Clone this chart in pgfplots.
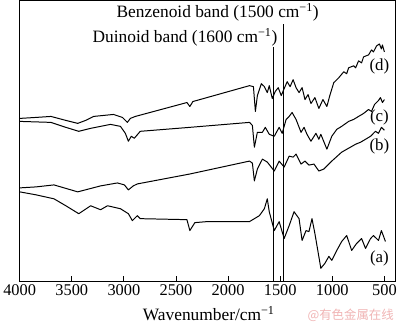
\documentclass[border=0pt]{standalone}
\usepackage{fontspec}
\setmainfont{Liberation Serif}
\newfontfamily\cjk{Noto Sans CJK SC}
\usepackage{pgfplots}
\pgfplotsset{compat=1.18}
\definecolor{wm}{HTML}{F0B4B4}
\begin{document}
\begin{tikzpicture}
\begin{axis}[name=ax,
  width=378.8pt, height=282.6pt, scale only axis,
  x dir=reverse, xmin=392, xmax=4000, ymin=0, ymax=282.6,
  xtick={500,1000,...,4000}, ytick=\empty,
  xtick pos=bottom, tick align=inside, major tick length=5pt,
  /pgf/number format/assume math mode=true,
  /pgf/number format/set thousands separator={},
  ticklabel style={font=\fontsize{16.5}{18}\selectfont},
  axis line style={line width=1.1pt},
  every tick/.style={black, line width=0.9pt},
  clip=false,
  cycle list={{black,no markers}},
  every axis plot/.append style={black, no markers, line width=1pt, line join=round},
]
% (d)
\addplot coordinates {(4000,164)(3843,165)(3700,166)(3557,162)(3443,159)(3367,162)(3290,166)(3100,168)(3014,165)(2967,160)(2938,164)(2890,166)(2395,180)(2367,176)(2338,181)(1795,197)(1757,196)(1738,171)(1719,187)(1681,199)(1652,196)(1624,190)(1605,197)(1576,184)(1548,191)(1519,195)(1490,187)(1462,194)(1433,201)(1405,196)(1376,203)(1348,195)(1319,190)(1290,195)(1262,183)(1233,188)(1205,179)(1167,185)(1129,174)(1090,183)(1052,176)(1024,187)(986,200)(938,205)(890,211)(862,209)(843,215)(795,217)(776,215)(748,222)(719,220)(700,226)(652,228)(624,233)(605,231)(576,237)(548,239)(529,234)(519,238)(500,231)};
% (c)
\addplot coordinates {(4000,161)(3700,160)(3557,155)(3433,151)(3319,154)(3129,158)(3033,156)(2986,149)(2957,141)(2929,146)(2900,144)(2843,151)(2367,155)(1795,160)(1767,157)(1748,135)(1719,150)(1671,150)(1643,155)(1605,148)(1557,146)(1510,155)(1481,149)(1443,163)(1414,166)(1386,170)(1348,163)(1300,150)(1271,155)(1243,148)(1205,141)(1157,149)(1129,143)(1110,148)(1052,133)(1005,146)(957,153)(910,156)(843,161)(795,163)(748,166)(700,169)(652,173)(624,171)(595,178)(557,182)(538,185)(519,180)(500,183)};
% (b)
\addplot coordinates {(4000,94)(3843,95)(3671,97)(3443,90)(3224,96)(3062,99)(2995,97)(2957,92)(2910,96)(2871,98)(2367,108)(1795,121)(1767,119)(1748,101)(1719,113)(1671,123)(1624,120)(1557,111)(1510,121)(1462,115)(1414,126)(1376,125)(1348,128)(1300,118)(1262,121)(1224,117)(1176,118)(1129,111)(1081,113)(1052,116)(1005,121)(910,130)(843,134)(776,138)(729,140)(681,143)(633,146)(586,151)(557,149)(529,155)(500,152)};
% (a)
\addplot coordinates {(4000,90)(3843,87)(3671,83)(3557,76)(3433,68)(3319,76)(3224,72)(3157,76)(3033,73)(2957,68)(2919,61)(2871,66)(2843,63)(2395,62)(2367,51)(2319,59)(2205,60)(1795,60)(1700,66)(1652,73)(1624,83)(1605,70)(1557,51)(1510,60)(1462,43)(1414,56)(1367,70)(1319,63)(1290,41)(1252,51)(1224,50)(1195,63)(1167,48)(1110,13)(1071,18)(1033,25)(1005,21)(957,31)(910,40)(862,46)(814,31)(767,38)(719,43)(681,33)(633,43)(605,46)(557,41)(529,51)(490,40)};
% band markers
\addplot[line width=1.1pt] coordinates {(1567,0)(1567,236)};
\addplot[line width=1.1pt] coordinates {(1467,0)(1467,259)};
\node[font=\fontsize{17.5}{20}\selectfont] at (axis cs:2100,270.5) {Benzenoid band (1500 cm\textsuperscript{−1})};
\node[font=\fontsize{17.5}{20}\selectfont] at (axis cs:2414,246) {Duinoid band (1600 cm\textsuperscript{−1})};
\node[font=\fontsize{17}{20}\selectfont] at (axis cs:548,216) {(d)};
\node[font=\fontsize{17}{20}\selectfont] at (axis cs:548,165) {(c)};
\node[font=\fontsize{17}{20}\selectfont] at (axis cs:548,136) {(b)};
\node[font=\fontsize{17}{20}\selectfont] at (axis cs:548,23) {(a)};
\node[font=\fontsize{17.5}{20}\selectfont] at (axis cs:2186,-33) {Wavenumber/cm\textsuperscript{−1}};
\node[font=\cjk\fontsize{12.5}{14}\selectfont, text=wm] at (axis cs:824,-34) {@有色金属在线};
\end{axis}
\path (ax.south west) ++(-18.5pt,-41.7pt) rectangle ++(400pt,325pt);
\end{tikzpicture}
\end{document}
